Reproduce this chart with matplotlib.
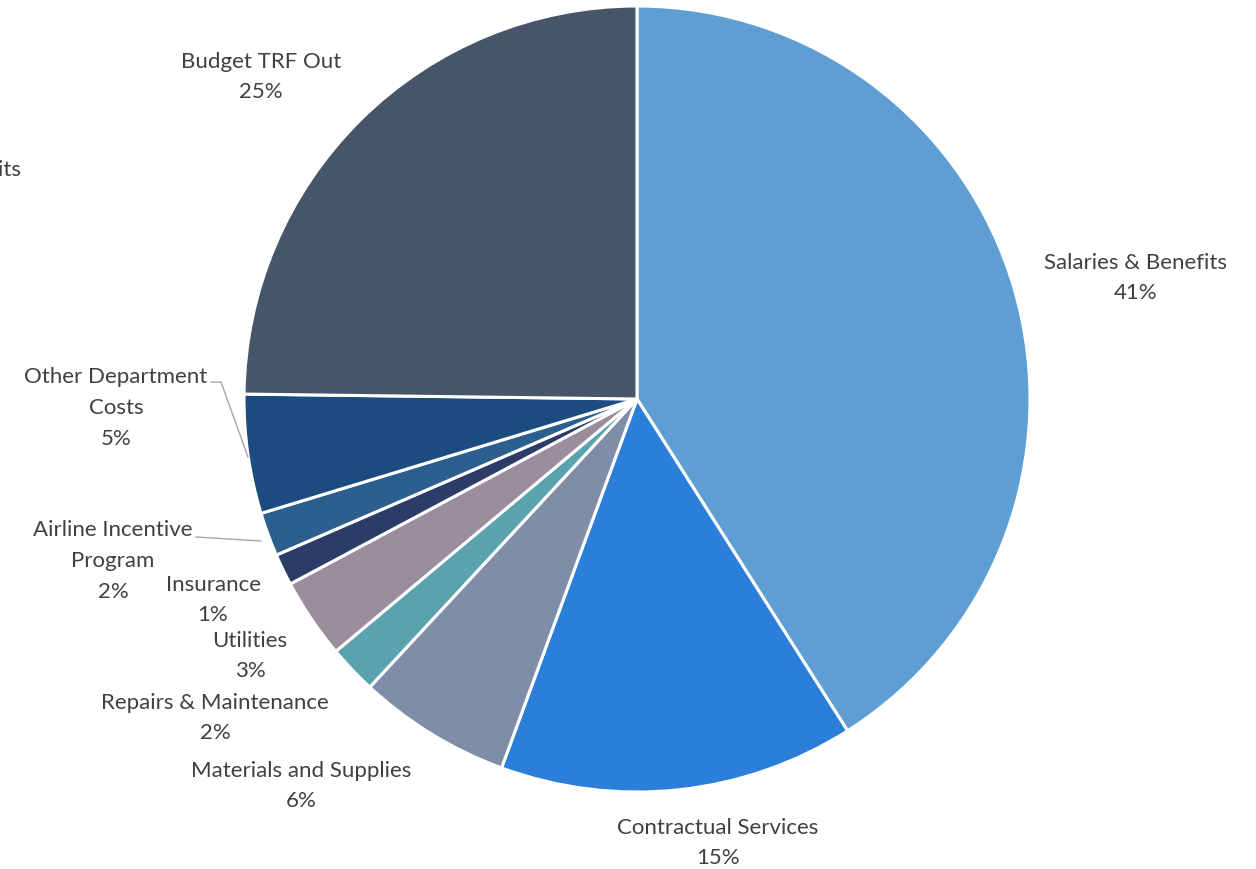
import matplotlib.pyplot as plt

categories = ["Salaries & Benefits", "Contractual Services", "Materials and Supplies",
              "Repairs & Maintenance", "Utilities", "Insurance",
              "Airline Incentive\nProgram", "Other Department\nCosts", "Budget TRF Out"]
shares = [41.0, 14.6, 6.3, 2.0, 3.3, 1.3, 1.8, 4.9, 24.8]
colors = ["#5F9ED3", "#2C7FD8", "#7F8DA8", "#5AA2AE", "#9C8D9E",
          "#2C3C68", "#2C5F8E", "#1C4B80", "#475569"]

W, H = 1256, 869
# label block centres in pixel coords (top-left origin)
label_pos = [(1136, 278), (718, 843), (301, 786), (215, 718), (250, 656),
             (213, 600), (113, 561), (116, 408), (261, 77)]

plt.rcParams['font.family'] = ['Lato', 'DejaVu Sans']

fig = plt.figure(figsize=(W / 100, H / 100), dpi=100)
ax = fig.add_axes([0, 0, 1, 1])

cx, cy, r = 637, H - 399, 393
ax.pie(shares, colors=colors, startangle=90, counterclock=False,
       center=(cx, cy), radius=r, frame=True,
       wedgeprops=dict(edgecolor='white', linewidth=2.2))
ax.set_xlim(0, W)
ax.set_ylim(0, H)
ax.set_aspect('equal')
ax.axis('off')

txt_color = '#404040'
for name, val, (x, y) in zip(categories, shares, label_pos):
    ax.text(x, H - y, f"{name}\n{val:.0f}%", ha='center', va='center',
            fontsize=16, color=txt_color, linespacing=1.68)

# clipped label at the far left edge
ax.text(21, H - 170, "Salaries & Benefits", ha='right', va='center',
        fontsize=16, color=txt_color)

# leader lines
ax.plot([211, 221, 248], [H - 382, H - 382, H - 457], color='#A6A6A6', lw=1)
ax.plot([196, 261], [H - 537, H - 541], color='#A6A6A6', lw=1)

fig.savefig('out.png', dpi=100)
